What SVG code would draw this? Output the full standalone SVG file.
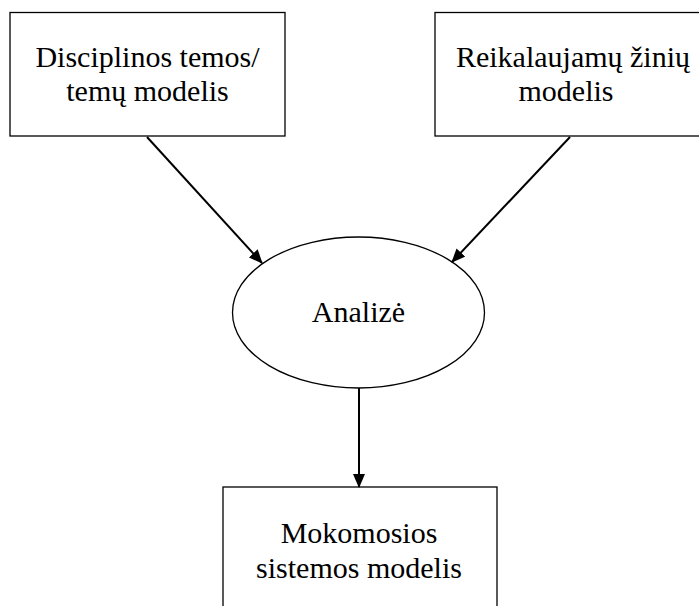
<svg xmlns="http://www.w3.org/2000/svg" width="699" height="606" viewBox="0 0 699 606">
<style>
.box{fill:#fff;stroke:#000;stroke-width:1.3}
.t{font-family:'Liberation Serif','Times New Roman','DejaVu Serif',serif;font-size:30px;fill:#000;text-anchor:middle}
.c{stroke:#000;stroke-width:2;fill:none;marker-end:url(#ah)}
</style>
<defs>
<marker id="ah" markerWidth="14" markerHeight="12" refX="13" refY="6" orient="auto" markerUnits="userSpaceOnUse">
<path d="M0,0 L14,6 L0,12 Z" fill="#000"/>
</marker>
</defs>
<rect width="699" height="606" fill="#fff"/>
<g id="n1">
<rect class="box" x="10" y="12.5" width="275" height="123.5"/>
<text class="t" x="147.5" y="67" font-family="Liberation Serif, serif">Disciplinos temos/</text>
<text class="t" x="147.5" y="100.5" font-family="Liberation Serif, serif">temų modelis</text>
</g>
<g id="n2">
<rect class="box" x="435" y="12.5" width="276" height="123.5"/>
<text class="t" x="573" y="67" font-family="Liberation Serif, serif">Reikalaujamų žinių</text>
<text class="t" x="566" y="100.5" font-family="Liberation Serif, serif">modelis</text>
</g>
<g id="n3">
<ellipse class="box" cx="358.5" cy="312.5" rx="126" ry="75.5"/>
<text class="t" x="358.5" y="322" font-family="Liberation Serif, serif">Analizė</text>
</g>
<g id="n4">
<rect class="box" x="223" y="487" width="274" height="130"/>
<text class="t" x="359" y="543" font-family="Liberation Serif, serif">Mokomosios</text>
<text class="t" x="359" y="578" font-family="Liberation Serif, serif">sistemos modelis</text>
</g>
<g id="connectors">
<line class="c" x1="147" y1="137" x2="262" y2="263"/>
<line class="c" x1="570" y1="137" x2="452" y2="262"/>
<line class="c" x1="359" y1="388" x2="359" y2="487"/>
</g>
</svg>
